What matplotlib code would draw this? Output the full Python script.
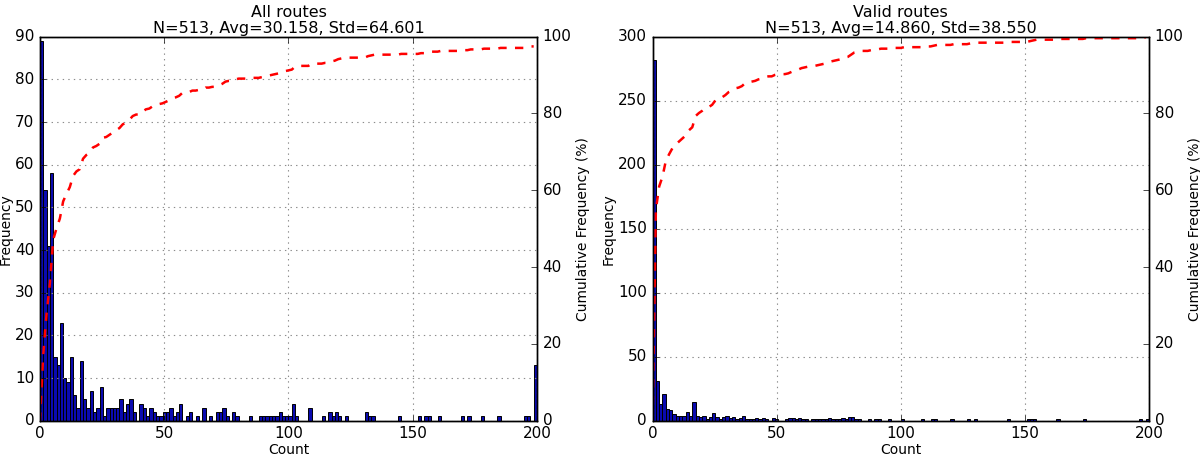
import numpy as np
import matplotlib
matplotlib.use("Agg")
import matplotlib.pyplot as plt

N = 513
bin_edges = np.linspace(0, 200, 151)

# counts per bin (150 bins of width 4/3)
all_counts = [
    89, 54, 41, 58, 15, 13, 23, 10, 9, 15,
    6, 3, 14, 5, 3, 7, 2, 3, 8, 1,
    3, 3, 3, 3, 5, 2, 4, 5, 2, 0,
    4, 3, 1, 3, 2, 1, 1, 2, 2, 3,
    1, 2, 4, 0, 1, 2, 0, 1, 0, 3,
    0, 1, 0, 2, 2, 3, 1, 0, 2, 1,
    0, 0, 0, 1, 0, 0, 1, 1, 1, 1,
    1, 1, 2, 1, 1, 1, 4, 1, 0, 0,
    0, 3, 0, 0, 0, 1, 0, 2, 1, 2,
    1, 0, 1, 0, 0, 0, 0, 0, 2, 1,
    1, 0, 0, 0, 0, 0, 0, 0, 1, 0,
    0, 0, 0, 0, 1, 0, 1, 1, 0, 0,
    1, 0, 0, 0, 0, 0, 0, 1, 0, 1,
    0, 0, 0, 1, 0, 0, 0, 0, 1, 0,
    0, 0, 0, 0, 0, 0, 1, 1, 0, 13,
]

valid_counts = [
    282, 31, 13, 21, 9, 8, 5, 4, 4, 4,
    7, 4, 15, 4, 3, 4, 1, 3, 6, 3,
    1, 3, 4, 2, 3, 1, 2, 4, 1, 1,
    1, 2, 1, 2, 1, 0, 2, 1, 0, 0,
    1, 2, 2, 1, 2, 1, 1, 0, 1, 1,
    1, 1, 1, 2, 1, 1, 1, 2, 1, 3,
    3, 1, 1, 0, 0, 1, 0, 1, 1, 0,
    0, 1, 0, 0, 0, 1, 0, 0, 0, 0,
    0, 1, 0, 0, 1, 1, 0, 0, 0, 0,
    1, 0, 0, 0, 0, 1, 0, 1, 0, 0,
    0, 0, 0, 0, 0, 0, 0, 1, 0, 0,
    0, 0, 0, 1, 1, 1, 0, 0, 0, 0,
    0, 0, 1, 0, 0, 0, 0, 0, 0, 0,
    1, 0, 0, 0, 0, 0, 0, 0, 0, 0,
    0, 0, 0, 0, 0, 0, 0, 1, 0, 1,
]

titles = ["All routes\nN=513, Avg=30.158, Std=64.601",
          "Valid routes\nN=513, Avg=14.860, Std=38.550"]
ymax = [90, 300]
ystep = [10, 50]


def draw(ax, counts, title, top, step):
    counts = np.array(counts)
    ax.hist(bin_edges[:-1], bins=bin_edges, weights=counts,
            facecolor='#0a0ab0', edgecolor='k', linewidth=0.7)
    ax.set_xlim(0, 200)
    ax.set_ylim(0, top)
    ax.set_xticks(np.arange(0, 201, 50))
    ax.set_yticks(np.arange(0, top + 1, step))
    ax.grid(True, color='0.55', linestyle=':', linewidth=0.8)
    ax.set_title(title, fontsize=11.5, pad=3, linespacing=1.05)
    ax.set_xlabel("Count", fontsize=10, labelpad=1)
    ax.set_ylabel("Frequency", fontsize=10, labelpad=2)
    ax.tick_params(labelsize=11)

    # cumulative frequency at the left edge of each bin
    cum = np.concatenate([[0], np.cumsum(counts)[:-1]]) * 100.0 / N
    ax2 = ax.twinx()
    ax2.plot(bin_edges[:-1], cum, 'r--', linewidth=1.8)
    ax2.set_xlim(0, 200)
    ax2.set_ylim(0, 100)
    ax2.set_yticks(np.arange(0, 101, 20))
    ax2.set_ylabel("Cumulative Frequency (%)", fontsize=10, labelpad=3)
    ax2.tick_params(labelsize=11)


plt.style.use('classic')
fig = plt.figure(figsize=(12, 4.58), dpi=100, facecolor='white')
ax_l = fig.add_axes([0.0333, 0.0814, 0.4142, 0.8385])
ax_r = fig.add_axes([0.5438, 0.0814, 0.4137, 0.8385])
draw(ax_l, all_counts, titles[0], ymax[0], ystep[0])
draw(ax_r, valid_counts, titles[1], ymax[1], ystep[1])
fig.savefig("out.png", dpi=100, facecolor='white')
